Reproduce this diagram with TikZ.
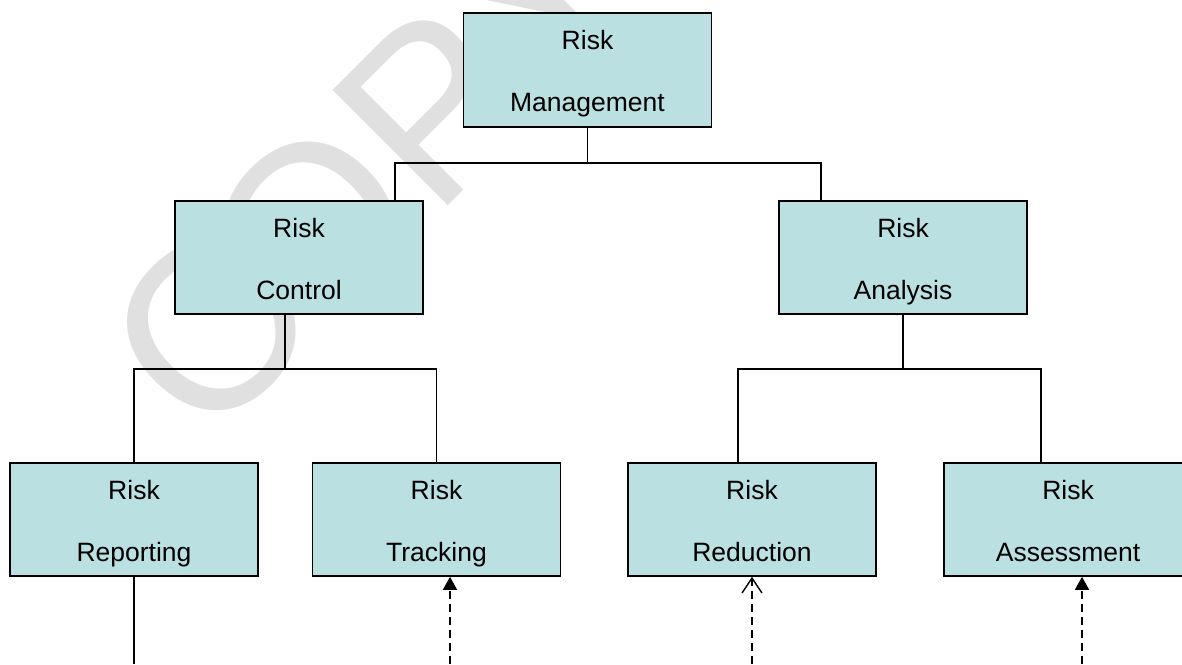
\documentclass[tikz,border=0pt]{standalone}
\usepackage{fontspec}
\setmainfont{Liberation Sans}
\usetikzlibrary{arrows.meta}
\definecolor{boxfill}{RGB}{186,224,226}
\definecolor{wmgray}{RGB}{224,224,224}
\newcommand\rstrut{\rule[-9pt]{0pt}{39pt}}
\begin{document}
\begin{tikzpicture}[x=1pt,y=-1pt,
  box/.style={draw=black, line width=1.6pt, fill=boxfill, minimum width=248pt,
    minimum height=113pt, inner sep=0pt, align=center,
    font=\fontsize{26.5}{62}\selectfont},
  conn/.style={line width=1.4pt},
  dasharrow/.style={line width=1.4pt, dash pattern=on 8pt off 5pt},
  wmark/.style={text=wmgray, rotate=45, anchor=base west, inner sep=0pt,
    font=\fontsize{237}{237}\selectfont}]
\useasboundingbox (0,0) rectangle (1182,664);
% watermark
\node[wmark] (wm) at (205.3,448.7) {C\kern-32pt OPY};
% boxes
\node[box, minimum height=114pt] (mgmt) at (587.5,70) {\rstrut Risk\\\rstrut Management};
\node[box] (ctrl) at (299,257.5) {\rstrut Risk\\\rstrut Control};
\node[box] (anal) at (903,257.5) {\rstrut Risk\\\rstrut Analysis};
\node[box] (rep) at (134,519.5) {\rstrut Risk\\\rstrut Reporting};
\node[box] (trk) at (436.5,519.5) {\rstrut Risk\\\rstrut Tracking};
\node[box] (red) at (752,519.5) {\rstrut Risk\\\rstrut Reduction};
\node[box] (ass) at (1068,519.5) {\rstrut Risk\\\rstrut Assessment};
% tree connectors
\coordinate (b1) at (587.5,163);
\draw[conn] (mgmt.south) -- (b1);
\draw[conn] ([xshift=96pt]ctrl.north) |- (b1) -| ([xshift=-82pt]anal.north);
\coordinate (b2) at (285,369);
\draw[conn] ([xshift=-14pt]ctrl.south) -- (b2);
\draw[conn] (rep.north) |- (b2) -| (trk.north);
\coordinate (b3) at (903,369);
\draw[conn] (anal.south) -- (b3);
\draw[conn] ([xshift=-14pt]red.north) |- (b3) -| ([xshift=-27pt]ass.north);
% bottom connectors
\coordinate (e1) at (134,664);
\coordinate (e2) at (450,664);
\coordinate (e3) at (752,664);
\coordinate (e4) at (1082,664);
\draw[conn] (rep.south) -- (e1);
\draw[dasharrow, -{Triangle[length=13pt,width=14pt]}] (e2) -- ([xshift=13.5pt]trk.south);
\draw[dasharrow, -{Straight Barb[length=15pt,width=20pt]}] (e3) -- (red.south);
\draw[dasharrow, -{Triangle[length=13pt,width=14pt]}] (e4) -- ([xshift=14pt]ass.south);
\end{tikzpicture}
\end{document}
